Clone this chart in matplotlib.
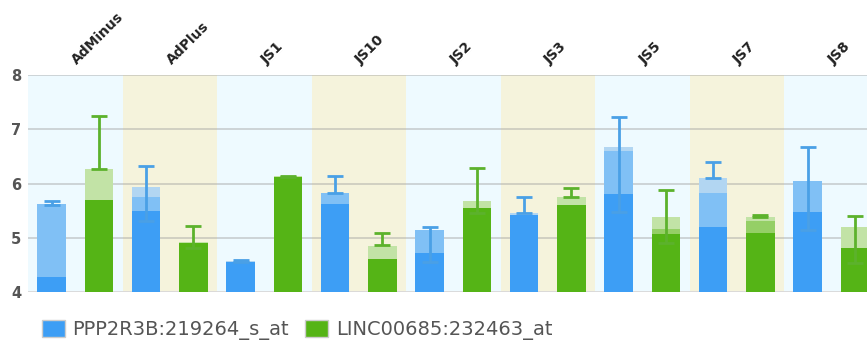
import matplotlib
matplotlib.use("Agg")
import matplotlib.pyplot as plt
import matplotlib.patches as mpatches
import numpy as np

categories = ["AdMinus", "AdPlus", "JS1", "JS10", "JS2", "JS3", "JS5", "JS7", "JS8"]
series_names = ["PPP2R3B:219264_s_at", "LINC00685:232463_at"]

# each bar: solid part, then a lighter layer, then the lightest layer
blue_base = [4.28, 5.49, 4.56, 5.62, 4.71, 5.42, 5.80, 5.20, 5.48]
blue_mid = [5.63, 5.75, 4.56, 5.83, 5.14, 5.42, 6.59, 5.83, 6.04]
blue_top = [5.63, 5.94, 4.58, 5.83, 5.14, 5.45, 6.67, 6.11, 6.04]
blue_err_lo = [5.60, 5.31, 4.56, 5.83, 4.56, 5.45, 5.48, 6.11, 5.14]
blue_err_hi = [5.67, 6.33, 4.59, 6.13, 5.20, 5.76, 7.22, 6.39, 6.67]

green_base = [5.70, 4.90, 6.12, 4.61, 5.54, 5.60, 5.06, 5.08, 4.82]
green_mid = [5.70, 4.90, 6.12, 4.61, 5.54, 5.60, 5.17, 5.30, 4.82]
green_top = [6.27, 4.93, 6.13, 4.85, 5.68, 5.76, 5.39, 5.38, 5.20]
green_err_lo = [6.27, 4.81, 6.12, 4.87, 5.45, 5.76, 4.90, 5.38, 4.53]
green_err_hi = [7.25, 5.22, 6.14, 5.08, 6.28, 5.92, 5.88, 5.42, 5.40]

ymin, ymax = 4, 8

fig = plt.figure(figsize=(8.67, 3.42), dpi=100)
ax = fig.add_axes([28 / 867, 50 / 342, 839 / 867, 217 / 342])

x = np.arange(len(categories))
band_cols = ["#eefaff", "#f5f3dc"]
for i in x:
    ax.axvspan(i - 0.5, i + 0.5, color=band_cols[i % 2], zorder=0, lw=0)

for v in [5, 6, 7, 8]:
    ax.axhline(v, color="#a0a0a0", alpha=0.5, lw=1.2, zorder=1)
ax.axhline(ymin, color="#d8d8d8", lw=2, zorder=1)

w = 0.3
specs = [
    (-0.25, blue_base, blue_mid, blue_top, blue_err_lo, blue_err_hi,
     ["#3d9ef5", "#80c0f5", "#b2d6f2"], "#4aa0e6"),
    (0.25, green_base, green_mid, green_top, green_err_lo, green_err_hi,
     ["#55b416", "#95cf66", "#c2e3a6"], "#5cb22c"),
]
for off, base, mid, top, lo, hi, cols, ecol in specs:
    base = np.array(base); mid = np.array(mid); top = np.array(top)
    ax.bar(x + off, base - ymin, w, bottom=ymin, color=cols[0], zorder=2)
    ax.bar(x + off, mid - base, w, bottom=base, color=cols[1], zorder=2)
    ax.bar(x + off, top - mid, w, bottom=mid, color=cols[2], zorder=2)
    lo = np.array(lo); hi = np.array(hi)
    c = (lo + hi) / 2
    ax.errorbar(x + off, c, yerr=[c - lo, hi - c], fmt="none", ecolor=ecol,
                elinewidth=2, capsize=6, capthick=2, zorder=3)

ax.set_xlim(-0.5, 839 / 94.5 - 0.5)
ax.set_ylim(ymin, ymax)
ax.set_yticks([4, 5, 6, 7, 8])
ax.set_xticks([])
for s in ax.spines.values():
    s.set_visible(False)
ax.tick_params(axis="y", length=0, pad=5, labelsize=10.5, labelcolor="#555555")
for lab in ax.get_yticklabels():
    lab.set_fontweight("bold")

for i, name in enumerate(categories):
    ax.annotate(name, xy=(i, 1), xycoords=("data", "axes fraction"),
                xytext=(3, 6), textcoords="offset points",
                rotation=45, rotation_mode="anchor", ha="left", va="bottom",
                fontsize=10, fontweight="bold", color="#222222",
                annotation_clip=False)

handles = [mpatches.Patch(facecolor="#3d9ef5", edgecolor="#cccccc", label=series_names[0]),
           mpatches.Patch(facecolor="#55b416", edgecolor="#cccccc", label=series_names[1])]
fig.legend(handles=handles, loc="lower left", bbox_to_anchor=(24 / 867, -0.045),
           ncol=2, frameon=False, fontsize=14, labelcolor="#555555",
           handlelength=1.2, handleheight=0.95, handletextpad=0.4,
           columnspacing=0.8)

fig.savefig("out.png", dpi=100)
